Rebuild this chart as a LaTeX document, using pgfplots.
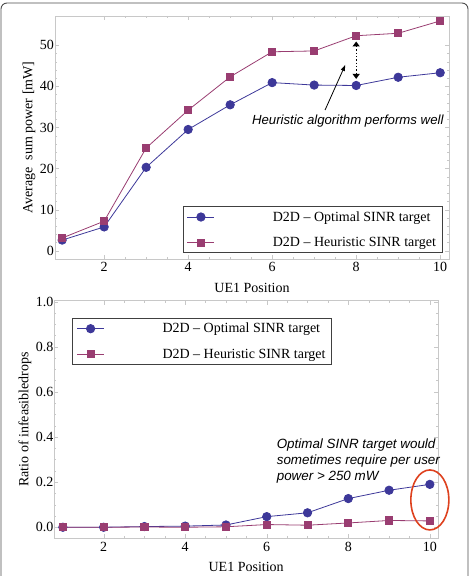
\documentclass[border=0pt]{standalone}
\usepackage{pgfplots}
\pgfplotsset{compat=1.18}
\usepackage{fontspec}
\setmainfont{Liberation Serif}
\newfontfamily\annfont{Liberation Sans}
\usetikzlibrary{arrows.meta}
\definecolor{optc}{RGB}{61,56,153}
\definecolor{heuc}{RGB}{153,61,113}
\definecolor{framec}{RGB}{200,200,200}
\definecolor{ellc}{RGB}{222,65,30}
\pgfplotstableread{
x opt heu
1 2.6 3.1
2 5.8 7.2
3 20.3 25.0
4 29.5 34.2
5 35.5 42.3
6 40.9 48.4
7 40.3 48.6
8 40.2 52.3
9 42.2 52.9
10 43.3 55.9
}\powertab
\pgfplotstableread{
x opt heu
1 0.000 0.000
2 0.000 0.000
3 0.003 0.001
4 0.005 0.000
5 0.010 0.002
6 0.047 0.012
7 0.064 0.009
8 0.127 0.019
9 0.164 0.030
10 0.190 0.028
}\ratiotab
\pgfplotsset{
  mystyle/.style={
    scale only axis,
    axis line style={framec},
    tick style={framec},
    tick pos=both,
    tick align=inside,
    major tick length=4pt,
    minor tick length=2pt,
    font=\fontsize{14}{16}\selectfont,
    ticklabel style={font=\fontsize{14}{16}\selectfont},
    yticklabel style={xshift=2.5pt},
    /pgf/number format/assume math mode=true,
    xtick={2,4,6,8,10},
    minor x tick num=3,
    xlabel={UE1 Position},
    legend cell align=left,
    legend style={draw=black!75, line width=0.8pt, fill=white, inner xsep=4pt, inner ysep=3pt, column sep=56pt, row sep=10.5pt, font=\fontsize{14}{16}\selectfont},
    legend image code/.code={\draw[mark repeat=2,mark phase=2,##1] plot coordinates {(0pt,0pt) (13.5pt,0pt) (27pt,0pt)};},
  },
  optstyle/.style={optc, line width=0.8pt, mark=*, mark size=4.2pt, mark options={fill=optc, draw=optc}},
  heustyle/.style={heuc, line width=0.8pt, mark=square*, mark size=3.6pt, mark options={fill=heuc, draw=heuc}},
}
\begin{document}
\begin{tikzpicture}[x=1pt,y=1pt]
\path[use as bounding box] (0,0) rectangle (474,576);
\begin{scope}
\clip (0,0) rectangle (474,576);
\draw[black!70, line width=0.9pt, rounded corners=6pt] (1,-10) rectangle (468,573);
\end{scope}
\begin{axis}[mystyle,
  at={(55pt,317pt)}, anchor=south west,
  width=394pt, height=243pt,
  xmin=0.83, xmax=10.21, ymin=-2.0, ymax=57.1,
  ytick={0,10,20,30,40,50},
  minor y tick num=4,
  ylabel={Average\ \ sum power [mW]},
  ylabel style={at={(axis description cs:-0.066,0.5)}, anchor=center},
  xlabel style={at={(axis description cs:0.5,-0.119)}, anchor=center},
  legend style={at={(1,0)}, anchor=south east, xshift=-6.7pt, yshift=5.7pt},
  clip=false,
]
\addplot[optstyle] table[x=x,y=opt] {\powertab};
\addlegendentry{D2D -- Optimal SINR target}
\addplot[heustyle] table[x=x,y=heu] {\powertab};
\addlegendentry{D2D -- Heuristic SINR target}
\draw[black, line width=1.3pt, dotted, {Triangle[length=5pt,width=7pt]}-{Triangle[length=5pt,width=7pt]}] (axis cs:8,50.9) -- (axis cs:8,41.8);
\draw[black, line width=0.8pt, -{Triangle[length=6pt,width=4pt]}] (axis cs:7.26,34.25) -- (axis cs:7.74,45.2);
\node[font=\annfont\itshape\fontsize{13.2}{15}\selectfont] at (axis cs:7.80,31.6) {Heuristic algorithm performs well};
\end{axis}
\begin{axis}[mystyle,
  at={(54.3pt,37.7pt)}, anchor=south west,
  width=383.7pt, height=237.6pt,
  xmin=0.79, xmax=10.2, ymin=-0.049, ymax=1.004,
  ytick={0,0.2,0.4,0.6,0.8,1.0},
  minor y tick num=3,
  yticklabel style={/pgf/number format/.cd, fixed, fixed zerofill, precision=1},
  ylabel={Ratio of infeasibledrops},
  ylabel style={at={(axis description cs:-0.0764,0.5)}, anchor=center},
  xlabel style={at={(axis description cs:0.5,-0.1195)}, anchor=center},
  legend style={at={(0,1)}, anchor=north west, xshift=18pt, yshift=-17pt},
  clip=false,
]
\addplot[optstyle] table[x=x,y=opt] {\ratiotab};
\addlegendentry{D2D -- Optimal SINR target}
\addplot[heustyle] table[x=x,y=heu] {\ratiotab};
\addlegendentry{D2D -- Heuristic SINR target}
\node[anchor=west, align=left, font=\annfont\itshape\fontsize{13.4}{16}\selectfont] at (axis cs:6.16,0.294) {Optimal SINR target would\\sometimes require per user\\power > 250 mW};
\draw[ellc, line width=1.6pt] (axis cs:10,0.121) ellipse [x radius=19pt, y radius=30pt];
\end{axis}
\end{tikzpicture}
\end{document}
